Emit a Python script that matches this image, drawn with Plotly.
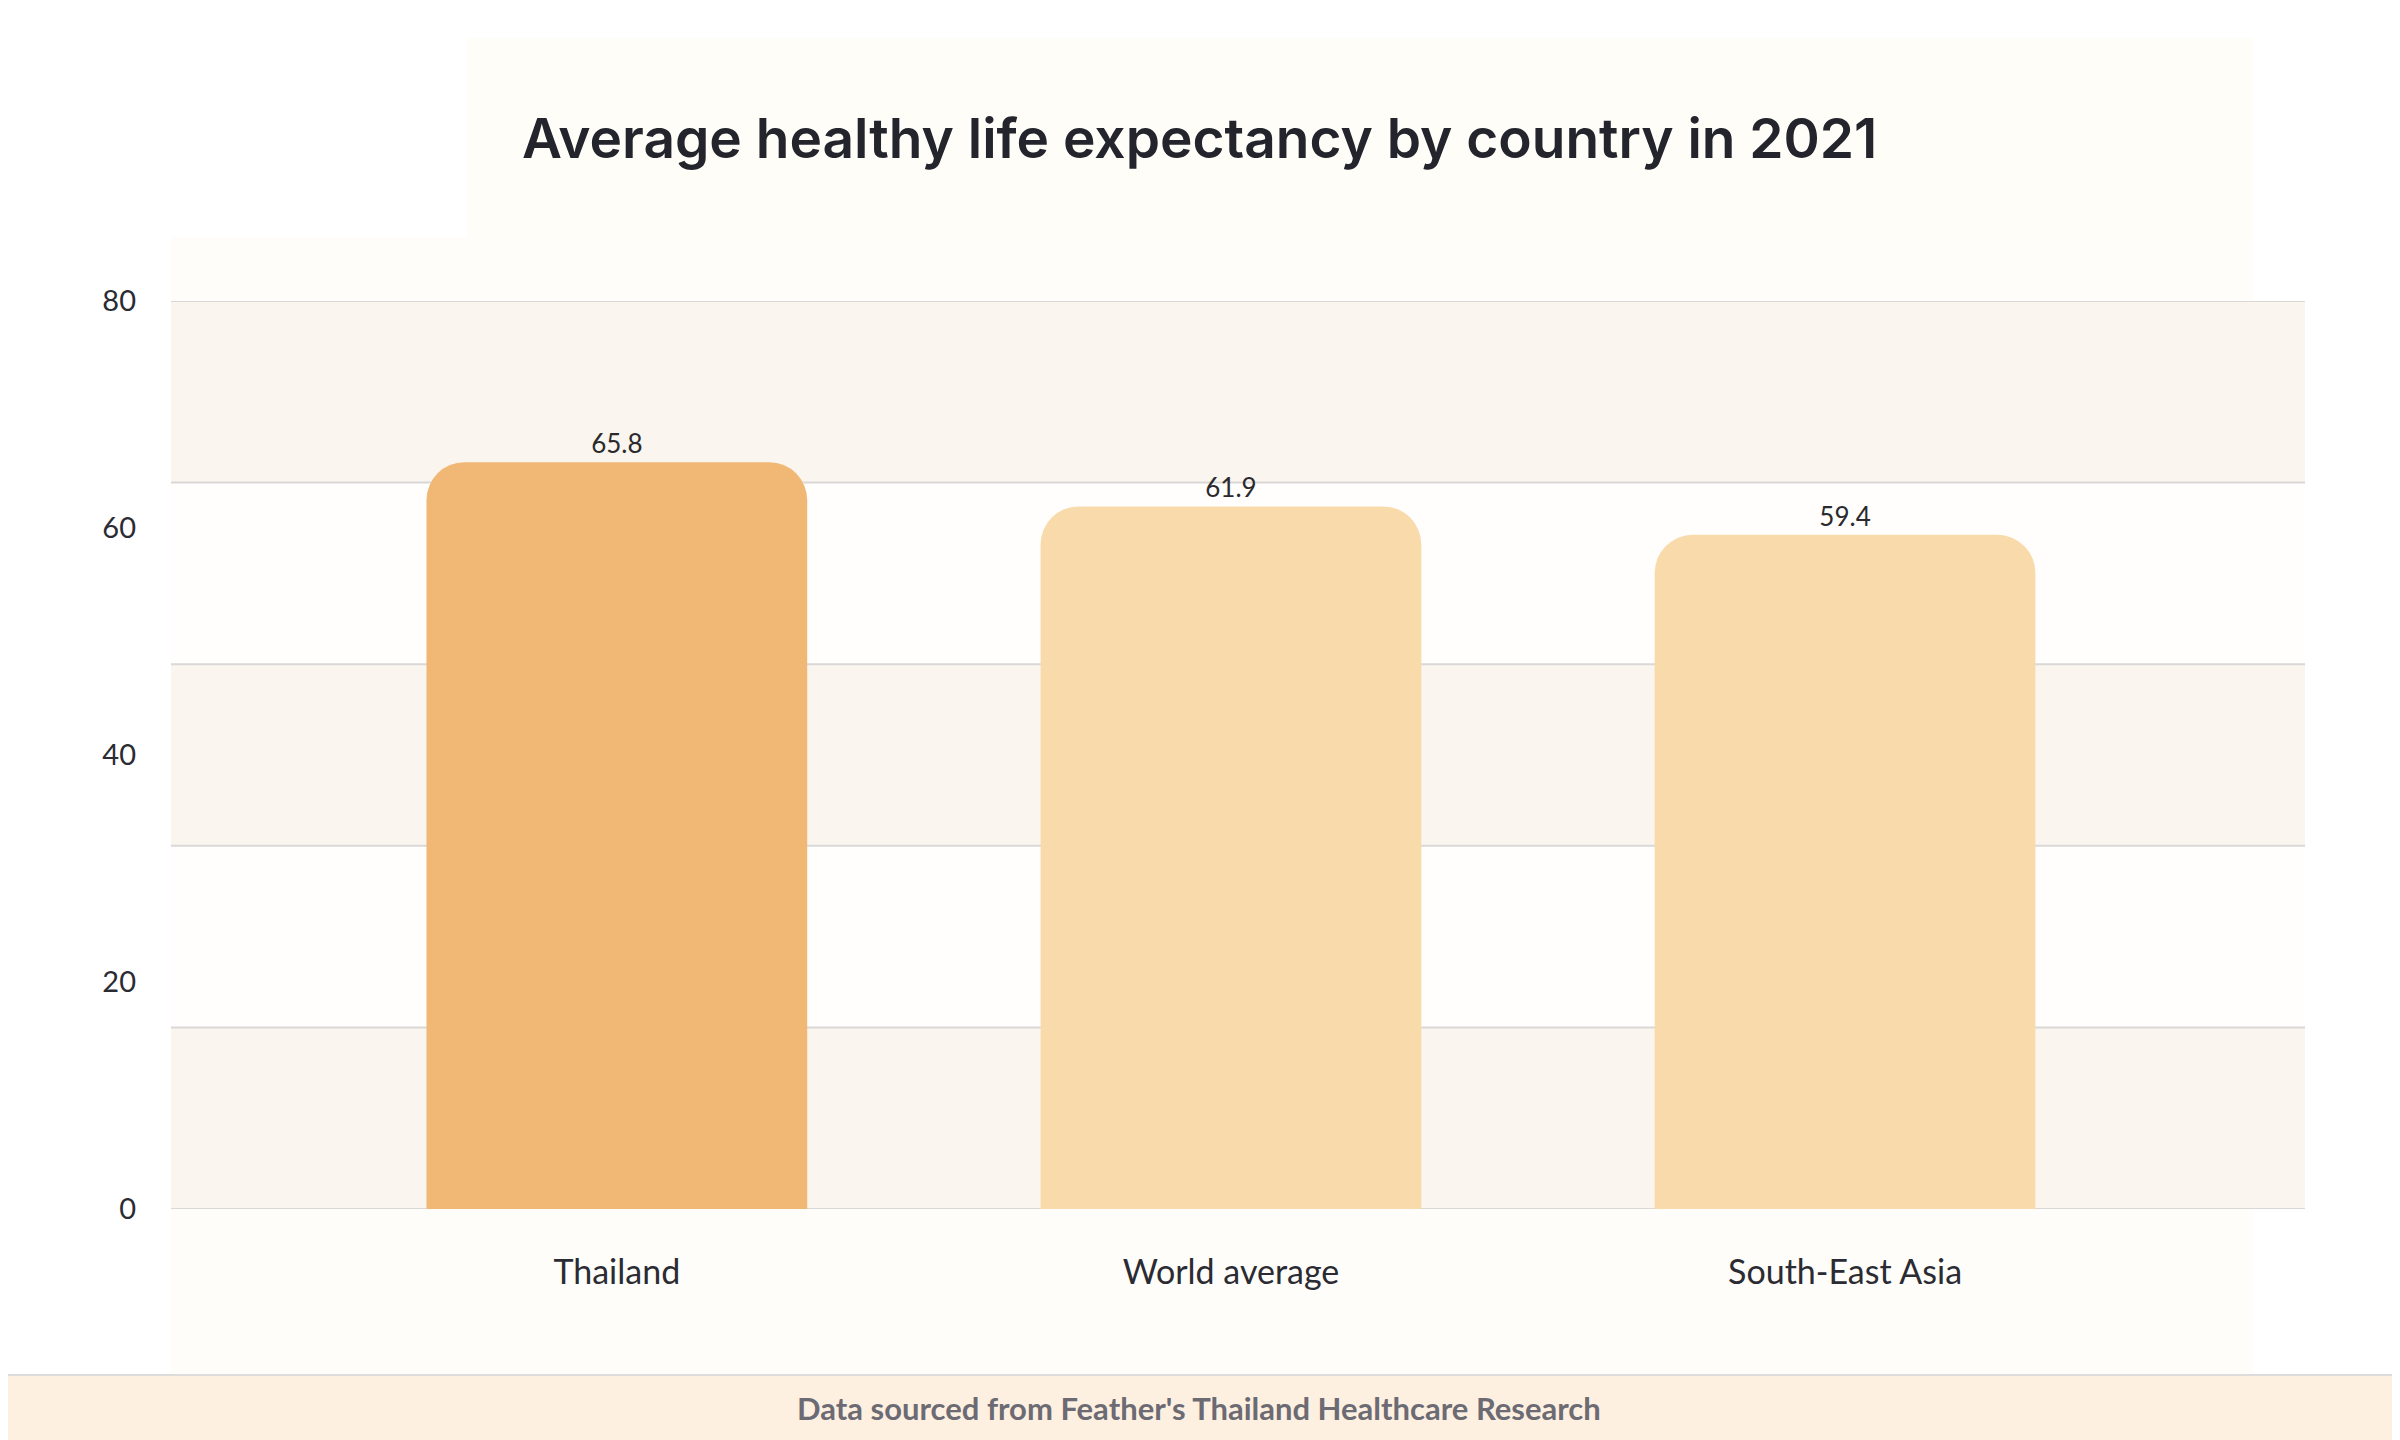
import plotly.graph_objects as go

# data
countries = ['Thailand', 'World average', 'South-East Asia']
life_expectancy = [65.8, 61.9, 59.4]
bar_colors = ['#f1b774', '#f9dbab', '#f9dbab']
y_ticks = [0, 20, 40, 60, 80]
grid_values = [0, 16, 32, 48, 64, 80]

title_text = 'Average healthy life expectancy by country in 2021'
source_text = "Data sourced from Feather's Thailand Healthcare Research"

# page body has an 8px margin, so the figure is drawn 8px smaller
OFF = 8
W, H = 2400 - OFF, 1440 - OFF
L, R, T, B = 171 - OFF, 2305 - OFF, 301 - OFF, 1209 - OFF


def px_x(p):
    # p is a screen pixel position in the 2400x1440 picture
    return (p - OFF - L) / (R - L)


def px_y(p):
    return (B - (p - OFF)) / (B - T)


fig = go.Figure()
fig.add_trace(go.Bar(
    x=countries, y=life_expectancy,
    marker=dict(color=bar_colors, cornerradius=38, line=dict(width=0)),
    width=0.62,
    text=[f'{v:.1f}' for v in life_expectancy],
    textposition='outside',
    textfont=dict(family='Lato', size=26, color='#2a2a2e'),
    cliponaxis=False,
))

shapes = []
# page panels
shapes.append(dict(type='rect', xref='paper', yref='paper', layer='below',
                   x0=px_x(171), x1=px_x(2253), y0=px_y(237), y1=px_y(1374),
                   fillcolor='#fffdf9', line=dict(width=0)))
shapes.append(dict(type='rect', xref='paper', yref='paper', layer='below',
                   x0=px_x(467), x1=px_x(2253), y0=px_y(38), y1=px_y(240),
                   fillcolor='#fffdf8', line=dict(width=0)))
# alternating bands
for i in range(len(grid_values) - 1):
    shapes.append(dict(type='rect', xref='paper', yref='y', layer='below',
                       x0=0, x1=1, y0=grid_values[i], y1=grid_values[i + 1],
                       fillcolor='#faf6ef' if i % 2 == 0 else '#fffefc',
                       line=dict(width=0)))
# grid lines
for g in grid_values:
    shapes.append(dict(type='line', xref='paper', yref='y', layer='below',
                       x0=0, x1=1, y0=g, y1=g,
                       line=dict(color='#d9d8d6', width=2)))
# footer
shapes.append(dict(type='rect', xref='paper', yref='paper', layer='below',
                   x0=px_x(0), x1=px_x(2400), y0=px_y(1374), y1=px_y(1440),
                   fillcolor='#fdf0e1', line=dict(width=0)))
shapes.append(dict(type='line', xref='paper', yref='paper', layer='below',
                   x0=px_x(0), x1=px_x(2400), y0=px_y(1375), y1=px_y(1375),
                   line=dict(color='#dcdcdc', width=2)))

fig.update_layout(
    width=W, height=H,
    margin=dict(l=L, r=W - R, t=T, b=H - B),
    paper_bgcolor='white', plot_bgcolor='rgba(0,0,0,0)',
    showlegend=False,
    shapes=shapes,
    annotations=[
        dict(text=title_text, xref='paper', yref='paper',
             x=px_x(520), y=px_y(138), xanchor='left', yanchor='middle',
             showarrow=False,
             font=dict(family='Inter', size=55, color='#23242c', weight=600)),
        dict(text=source_text, xref='paper', yref='paper',
             x=px_x(1199), y=px_y(1408), xanchor='center', yanchor='middle',
             showarrow=False,
             font=dict(family='Lato', size=31, color='#6c6b73', weight=700)),
    ],
)
fig.update_xaxes(range=[-0.726, 2.749], showgrid=False, zeroline=False,
                 showline=False, ticks='', ticklabelstandoff=40,
                 tickfont=dict(family='Lato', size=34, color='#2b2b33'))
fig.update_yaxes(range=[0, 80], tickvals=y_ticks, showgrid=False,
                 zeroline=False, showline=False, ticks='',
                 ticklabelstandoff=34,
                 tickfont=dict(family='Lato', size=29, color='#2b2b33'))

fig.write_html('out.html')
